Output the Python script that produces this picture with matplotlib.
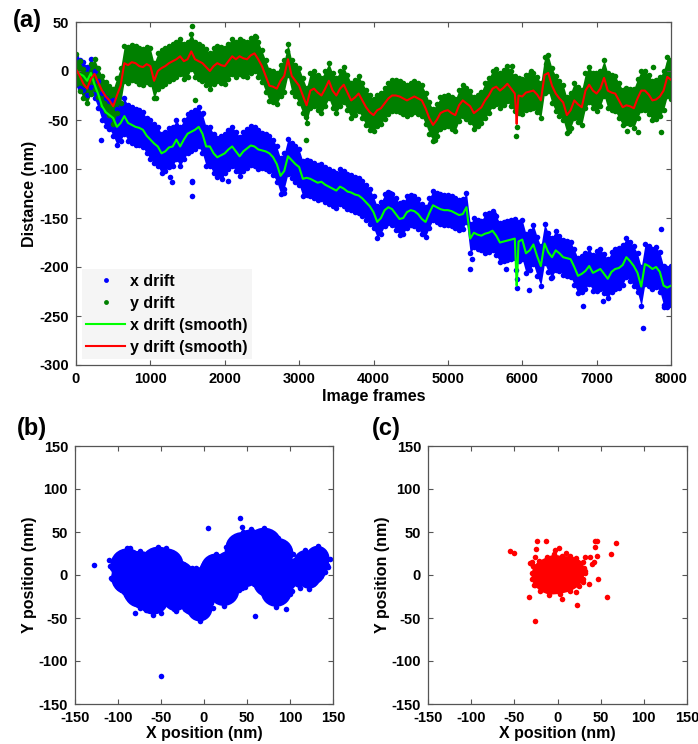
import numpy as np
import matplotlib
matplotlib.use('Agg')
import matplotlib.pyplot as plt
from matplotlib.patches import Ellipse

plt.rcParams['font.family'] = ['Liberation Sans', 'DejaVu Sans']
plt.rcParams['font.weight'] = 'bold'
plt.rcParams['axes.labelweight'] = 'bold'
plt.rcParams['axes.unicode_minus'] = False

# ---- data ----
# drift samples every 50 frames (smoothed traces), 0..8000
frames = np.arange(0, 8001, 50)

x_smooth = [0, -3, -5, -10, -2, -14, -24, -36, -42, -45,
            -48, -57, -53, -46, -53, -55, -57, -58, -60, -66,
            -70, -74, -77, -84, -82, -78, -77, -70, -77, -70,
            -64, -62, -60, -57, -64, -77, -77, -84, -88, -86,
            -84, -80, -77, -82, -87, -82, -79, -76, -77, -80,
            -81, -82, -84, -88, -95, -107, -102, -87, -91, -95,
            -98, -110, -109, -110, -112, -114, -113, -116, -118, -120,
            -122, -118, -120, -123, -124, -126, -127, -130, -134, -138,
            -144, -154, -150, -142, -139, -141, -146, -151, -150, -144,
            -142, -143, -146, -151, -154, -145, -137, -139, -141, -142,
            -142, -143, -145, -147, -146, -139, -171, -165, -167, -168,
            -166, -165, -163, -168, -175, -174, -173, -172, -171, -174,
            -172, -186, -183, -177, -189, -199, -176, -185, -190, -183,
            -186, -190, -191, -192, -200, -209, -207, -204, -199, -206,
            -204, -202, -207, -212, -205, -202, -201, -198, -190, -194,
            -199, -206, -220, -197, -199, -202, -200, -205, -219, -221,
            -219]

y_smooth = [2, -5, -13, -18, -8, -3, -12, -20, -26, -30,
            -36, -25, -15, 8, 6, 9, 8, 5, 4, 7,
            5, -10, 0, 3, 5, 8, 10, 12, 15, 10,
            12, 20, 12, 10, 8, 4, 0, 5, 8, 6,
            5, 10, 15, 12, 15, 13, 12, 16, 18, 12,
            5, -5, -15, -16, -18, -10, -5, 12, -5, -10,
            -15, -25, -35, -20, -18, -22, -25, -18, -10, -20,
            -25, -18, -14, -22, -30, -27, -23, -30, -37, -42,
            -45, -40, -38, -33, -28, -25, -25, -26, -28, -30,
            -28, -26, -28, -30, -38, -48, -55, -50, -43, -41,
            -40, -43, -45, -35, -30, -33, -36, -43, -40, -37,
            -30, -25, -18, -16, -20, -17, -13, -18, -23, -25,
            -26, -22, -21, -20, -24, -30, -4, -2, -15, -23,
            -28, -32, -45, -40, -30, -34, -37, -20, -14, -20,
            -23, -18, -7, -20, -22, -23, -30, -37, -35, -36,
            -38, -28, -20, -20, -24, -30, -29, -26, -20, -6,
            -9]

# the short spike in both smoothed traces near frame 5925
spike_frames = [5900, 5915, 5925, 5935, 5950]
x_spike = [-171, -200, -219, -205, -174]
y_spike = [-23, -40, -54, -40, -25]

# half-width of the dense point band, per 500-frame block
x_spread = [14, 18, 20, 20, 20, 18, 18, 18, 16, 15, 15, 20, 20, 18, 20, 20]
y_spread = [15, 18, 18, 18, 18, 16, 18, 18, 16, 16, 16, 18, 18, 18, 18, 20]

# isolated points away from the band
x_out_frames = [338, 1261, 1293, 1441, 1554, 1554, 1554, 1622, 1712, 1959, 2050,
                2793, 3843, 4225, 5303, 5326, 5618, 5775, 5932, 5925, 5920, 6090,
                6382, 6822, 7079, 7618, 7865, 7910, 7933]
x_out_vals = [-70, -108, -113, -57, -113, -128, -112, -48, -43, -110, -112,
              -124, -117, -124, -202, -192, -146, -202, -221, -212, -203, -223,
              -211, -240, -235, -262, -161, -241, -235]
y_out_frames = [1081, 1554, 1599, 2423, 2838, 3099, 3099, 4831, 5865, 5919, 5932,
                6112, 6314, 6629, 6989, 7402, 7550, 7752, 7865, 7955, 7968]
y_out_vals = [-28, 46, -30, 35, 20, -70, -47, -70, 5, -66, -57,
              0, 7, -61, -2, -61, -62, 4, -62, -16, 8]

# panel (b): centre of the position cloud in drift coordinates
x_center = -132
y_center = -17
b_out_x = [-128, -50, 5, 42, 44, 59, 95, 100, -110, -107, 110, 112, 130, -86, -80, -50]
b_out_y = [12, -117, 55, 66, 56, -48, -40, -22, 17, -5, -12, -15, 28, 31, -44, -44]

# panel (c): outline of the dense residual cloud and isolated points
c_core_x = [-30, -28, -22, -12, -4, 5, 14, 22, 29, 32, 30, 25, 15, 3, -10, -20, -27, -30]
c_core_y = [2, 10, 16, 21, 24, 22, 22, 20, 15, 5, -5, -13, -19, -22, -23, -19, -12, -5]
c_out_x = [-55, -50, -24, -13, -25, -32, -33, -26, 23, 5, 47, 37, 57, 62, 68,
           43, 46, 44, 46, 42, 40, 32, 38, 2, -3, 31, 32, 30, 21, -26, -28, -30, -26, 10]
c_out_y = [28, 26, 39, 39, 30, 14, -25, -54, -35, -28, -5, -11, -25, 24, 37,
           39, 40, 33, 22, 15, 13, 21, 21, 31, 29, 8, 2, -8, -20, -12, 10, 15, 21, 26]

# ---- derived arrays ----
x_smooth = np.array(x_smooth, float)
y_smooth = np.array(y_smooth, float)
xs_sp = np.append(np.repeat(x_spread, 10), x_spread[-1])
ys_sp = np.append(np.repeat(y_spread, 10), y_spread[-1])

# smoothed lines with the spike spliced in
line_f = np.concatenate([frames[frames < spike_frames[0]], spike_frames,
                         frames[frames > spike_frames[-1]]])
line_x = np.concatenate([x_smooth[frames < spike_frames[0]], x_spike,
                         x_smooth[frames > spike_frames[-1]]])
line_y = np.concatenate([y_smooth[frames < spike_frames[0]], y_spike,
                         y_smooth[frames > spike_frames[-1]]])

BLUE = '#0000ff'
DKGREEN = '#008000'
LGREEN = '#00ff00'
RED = '#ff0000'
SPINE = '#555555'
ms = 4


def style_axes(ax):
    for s in ax.spines.values():
        s.set_color(SPINE)
        s.set_linewidth(0.9)
    ax.tick_params(direction='in', top=True, right=True, length=3.5,
                   width=0.8, color=SPINE, labelsize=10.5, pad=5)
    for lab in ax.get_xticklabels() + ax.get_yticklabels():
        lab.set_fontweight('bold')


fig = plt.figure(figsize=(6.98, 7.44), dpi=100)

# ---- (a) drift vs frame ----
ax1 = fig.add_axes([76 / 698, 1 - 365 / 744, 595 / 698, 343 / 744])
ax1.fill_between(frames, x_smooth - xs_sp, x_smooth + xs_sp, color=BLUE, lw=0)
ax1.plot(frames, x_smooth + xs_sp, 'o', ms=ms, color=BLUE, mec='none')
ax1.plot(frames, x_smooth - xs_sp, 'o', ms=ms, color=BLUE, mec='none')
ax1.plot(x_out_frames, x_out_vals, 'o', ms=ms, color=BLUE, mec='none')
ax1.fill_between(frames, y_smooth - ys_sp, y_smooth + ys_sp, color=DKGREEN, lw=0)
ax1.plot(frames, y_smooth + ys_sp, 'o', ms=ms, color=DKGREEN, mec='none')
ax1.plot(frames, y_smooth - ys_sp, 'o', ms=ms, color=DKGREEN, mec='none')
ax1.plot(y_out_frames, y_out_vals, 'o', ms=ms, color=DKGREEN, mec='none')
ax1.plot(line_f, line_x, color=LGREEN, lw=1.5)
ax1.plot(line_f, line_y, color=RED, lw=1.5)

# legend proxies
h1, = ax1.plot([], [], 'o', ms=3.5, color=BLUE, mec='none', label='x drift')
h2, = ax1.plot([], [], 'o', ms=3.5, color=DKGREEN, mec='none', label='y drift')
h3, = ax1.plot([], [], color=LGREEN, lw=1.5, label='x drift (smooth)')
h4, = ax1.plot([], [], color=RED, lw=1.5, label='y drift (smooth)')
leg = ax1.legend(handles=[h1, h2, h3, h4], loc='lower left',
                 prop={'weight': 'bold', 'size': 11.5}, facecolor='#f5f5f5',
                 edgecolor='none', framealpha=1, fancybox=False,
                 borderaxespad=0.35, handlelength=2.4, handletextpad=0.3,
                 labelspacing=0.43, borderpad=0.3)

ax1.set_xlim(0, 8000)
ax1.set_ylim(-300, 50)
ax1.set_xticks(np.arange(0, 8001, 1000))
ax1.set_yticks(np.arange(-300, 51, 50))
ax1.set_xlabel('Image frames', fontsize=11.5, fontweight='bold', labelpad=2)
ax1.set_ylabel('Distance (nm)', fontsize=11.5, fontweight='bold', labelpad=2)
style_axes(ax1)

# ---- (b) drift trajectory ----
ax2 = fig.add_axes([75 / 698, 1 - 704 / 744, 258 / 698, 258 / 744])
bx = x_smooth - x_center
by = y_smooth - y_center
for cx, cy, sx, sy in zip(bx, by, xs_sp, ys_sp):
    ax2.add_patch(Ellipse((cx, cy), 2 * sx, 2 * sy, color=BLUE, lw=0))
ax2.plot(bx + xs_sp, by, 'o', ms=ms, color=BLUE, mec='none')
ax2.plot(bx - xs_sp, by, 'o', ms=ms, color=BLUE, mec='none')
ax2.plot(bx, by + ys_sp, 'o', ms=ms, color=BLUE, mec='none')
ax2.plot(bx, by - ys_sp, 'o', ms=ms, color=BLUE, mec='none')
ax2.plot(b_out_x, b_out_y, 'o', ms=ms, color=BLUE, mec='none')

# ---- (c) residual after drift correction ----
ax3 = fig.add_axes([428 / 698, 1 - 704 / 744, 259 / 698, 258 / 744])
ax3.fill(c_core_x, c_core_y, color=RED, lw=0)
ax3.plot(c_core_x, c_core_y, 'o', ms=ms, color=RED, mec='none')
ax3.plot(c_out_x, c_out_y, 'o', ms=ms, color=RED, mec='none')

for ax in (ax2, ax3):
    ax.set_xlim(-150, 150)
    ax.set_ylim(-150, 150)
    ax.set_xticks(np.arange(-150, 151, 50))
    ax.set_yticks(np.arange(-150, 151, 50))
    ax.set_xlabel('X position (nm)', fontsize=11.5, fontweight='bold', labelpad=1)
    ax.set_ylabel('Y position (nm)', fontsize=11.5, fontweight='bold', labelpad=1)
    style_axes(ax)

fig.text(13 / 698, 1 - 20 / 744, '(a)', fontsize=17, fontweight='bold', va='center')
fig.text(17 / 698, 1 - 428 / 744, '(b)', fontsize=17, fontweight='bold', va='center')
fig.text(372 / 698, 1 - 428 / 744, '(c)', fontsize=17, fontweight='bold', va='center')

fig.savefig('out.png', dpi=100)
